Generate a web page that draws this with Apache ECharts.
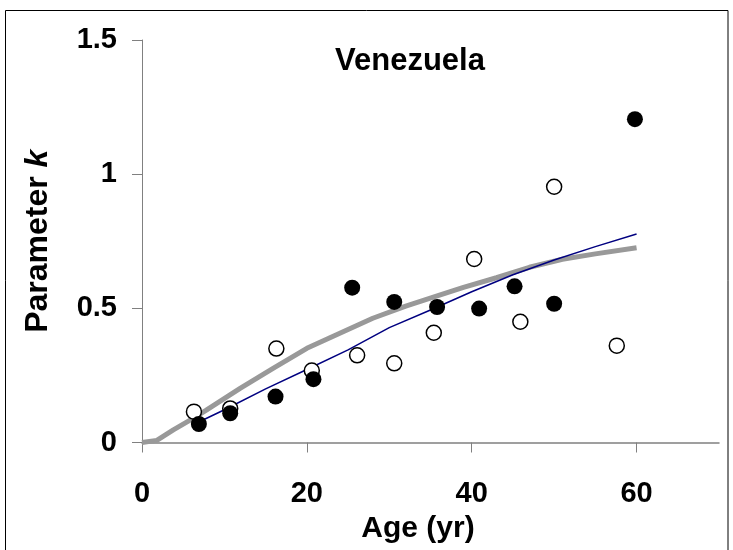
<!DOCTYPE html>
<html>
<head>
<meta charset="utf-8">
<script src="https://cdn.jsdelivr.net/npm/echarts@6/dist/echarts.min.js"></script>
<style>
  html, body { margin: 0; padding: 0; background: #fff; }
  #chart_k { width: 733px; height: 550px; }
</style>
</head>
<body>
<div id="chart_k"></div>
<script>
// 数据
const ageFilled = [6.9, 10.7, 16.2, 20.8, 25.5, 30.6, 35.8, 40.9, 45.2, 50.0, 59.8];
const kFilled = [0.069, 0.109, 0.171, 0.236, 0.577, 0.524, 0.505, 0.499, 0.582, 0.517, 1.205];

const ageOpen = [6.3, 10.7, 16.3, 20.6, 26.1, 30.6, 35.4, 40.3, 45.9, 50.0, 57.6];
const kOpen = [0.115, 0.127, 0.35, 0.268, 0.325, 0.295, 0.409, 0.684, 0.45, 0.953, 0.361];

// 细蓝线
const blueAge = [7.4, 10, 15, 20, 25, 30, 35, 40, 45, 50, 55, 60];
const blueK = [0.084, 0.122, 0.2, 0.272, 0.345, 0.428, 0.494, 0.562, 0.625, 0.68, 0.73, 0.777];

// 粗灰线
const grayAge = [0, 1.8, 3.8, 6.2, 7.8, 11.9, 15.9, 20, 24, 28, 32, 36, 39, 43, 47, 51, 55, 60];
const grayK = [0, 0.008, 0.047, 0.09, 0.121, 0.202, 0.276, 0.351, 0.407, 0.463, 0.508, 0.548, 0.578, 0.614, 0.653, 0.683, 0.703, 0.726];

const xTicks = [0, 20, 40, 60];
const yTicks = [0, 0.5, 1, 1.5];

function pairs(xs, ys) {
  return xs.map(function (x, i) { return [x, ys[i]]; });
}

const font = "'Liberation Sans', Arial, sans-serif";

function chartsBtn() {
  var chartDom = document.getElementById("chart_k");
  let myChart = echarts.init(chartDom);
  var option = {
    animation: false,
    backgroundColor: "#fff",
    title: {
      text: "Venezuela",
      left: 330,
      top: 41,
      textStyle: { fontFamily: font, fontSize: 31, fontWeight: "bold", color: "#000" },
    },
    graphic: [
      {
        type: "rect",
        shape: { x: 5.5, y: 10.5, width: 722.5, height: 560 },
        style: { fill: "none", stroke: "#000", lineWidth: 1 },
        silent: true,
      },
    ],
    grid: { left: 142, right: 14, top: 40, bottom: 107.5 },
    xAxis: {
      type: "value",
      min: 0,
      max: 70,
      interval: 20,
      name: "Age (yr)",
      nameLocation: "middle",
      nameGap: 67,
      nameTextStyle: {
        fontFamily: font,
        fontSize: 30,
        fontWeight: "bold",
        color: "#000",
        padding: [0, 25, 0, 0],
      },
      axisLine: { show: true, lineStyle: { color: "#808080", width: 1.5 } },
      axisTick: { show: true, length: 10, customValues: xTicks, lineStyle: { color: "#808080", width: 1 } },
      axisLabel: {
        customValues: xTicks,
        margin: 37,
        fontFamily: font,
        fontSize: 29,
        fontWeight: "bold",
        color: "#000",
      },
      splitLine: { show: false },
    },
    yAxis: {
      type: "value",
      min: 0,
      max: 1.5,
      interval: 0.5,
      name: "Parameter {i|k}",
      nameLocation: "middle",
      nameGap: 88,
      nameRotate: 90,
      nameTextStyle: {
        fontFamily: font,
        fontSize: 32,
        fontWeight: "bold",
        color: "#000",
        rich: {
          i: { fontFamily: font, fontSize: 32, fontWeight: "bold", fontStyle: "italic", color: "#000" },
        },
      },
      axisLine: { show: true, lineStyle: { color: "#808080", width: 1 } },
      axisTick: { show: true, length: 10, customValues: yTicks, lineStyle: { color: "#808080", width: 1 } },
      axisLabel: {
        customValues: yTicks,
        margin: 25,
        fontFamily: font,
        fontSize: 29,
        fontWeight: "bold",
        color: "#000",
      },
      splitLine: { show: false },
    },
    series: [
      {
        name: "gray",
        type: "line",
        data: pairs(grayAge, grayK),
        showSymbol: false,
        lineStyle: { color: "#999999", width: 5 },
        z: 2,
      },
      {
        name: "blue",
        type: "line",
        data: pairs(blueAge, blueK),
        showSymbol: false,
        lineStyle: { color: "#000080", width: 1.5 },
        z: 3,
      },
      {
        name: "open",
        type: "scatter",
        data: pairs(ageOpen, kOpen),
        symbolSize: 15,
        itemStyle: { color: "#fff", borderColor: "#000", borderWidth: 1.5, opacity: 1 },
        z: 4,
      },
      {
        name: "filled",
        type: "scatter",
        data: pairs(ageFilled, kFilled),
        symbolSize: 16,
        itemStyle: { color: "#000", opacity: 1 },
        z: 5,
      },
    ],
  };
  option && myChart.setOption(option, true);
}

chartsBtn();
</script>
</body>
</html>
